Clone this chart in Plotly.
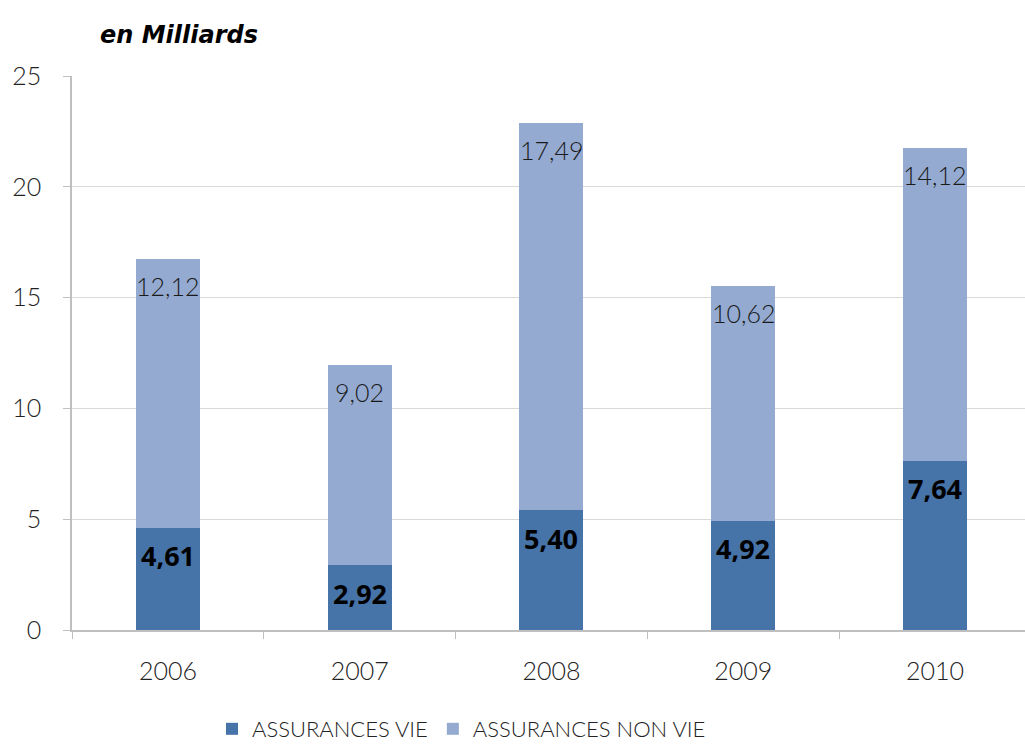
import plotly.graph_objects as go

years = ["2006", "2007", "2008", "2009", "2010"]
vie = [4.61, 2.92, 5.40, 4.92, 7.64]
non_vie = [12.12, 9.02, 17.49, 10.62, 14.12]
vie_name = "ASSURANCES VIE"
non_vie_name = "ASSURANCES NON VIE"
y_ticks = [0, 5, 10, 15, 20, 25]

def fr(v):
    return f"{v:.2f}".replace(".", ",")

FONT = "Lato"
C_VIE = "#4673A8"
C_NV = "#94AAD1"

fig = go.Figure()
fig.add_bar(x=years, y=vie, name=vie_name, marker=dict(color=C_VIE, line=dict(width=0)), width=0.335)
fig.add_bar(x=years, y=non_vie, name=non_vie_name, marker=dict(color=C_NV, line=dict(width=0)), width=0.335)

for i, yr in enumerate(years):
    fig.add_annotation(x=i, y=vie[i], text=f"<b>{fr(vie[i])}</b>", showarrow=False,
                       yanchor="middle", yshift=-28,
                       font=dict(family="Open Sans", size=27, color="black", weight=800))
    fig.add_annotation(x=i, y=vie[i] + non_vie[i], text=fr(non_vie[i]), showarrow=False,
                       yanchor="middle", yshift=-27,
                       font=dict(family=FONT, size=25, color="#1a1a1a", weight=300))

fig.add_annotation(xref="paper", yref="paper", x=(98 - 72) / 953, y=(630 - 35) / 554,
                   xanchor="left", yanchor="middle", showarrow=False,
                   text="<b><i>en Milliards</i></b>",
                   font=dict(family="DejaVu Sans", size=24, color="black"))

fig.update_layout(
    width=1025, height=746,
    margin=dict(l=72, r=0, t=76, b=116, autoexpand=False),
    barmode="stack",
    plot_bgcolor="white", paper_bgcolor="white",
    font=dict(family=FONT, size=25, color="#222", weight=300),
    showlegend=True,
    legend=dict(orientation="h", x=(212 - 72) / 953, xanchor="left", y=(630 - 729) / 554, yanchor="middle",
                font=dict(family=FONT, size=22, color="#222", weight=300), itemwidth=30, traceorder="normal"),
    xaxis=dict(type="category", range=[-0.5, 4.47], tickson="boundaries", ticks="outside", ticklen=7,
               tickcolor="#bfbfbf", showline=True, linecolor="#bfbfbf", linewidth=1.5,
               showgrid=False, tickfont=dict(family=FONT, size=25, color="#222", weight=300),
               ticklabelstandoff=18),
    yaxis=dict(range=[0, 25], tickvals=y_ticks, ticks="outside", ticklen=7, tickcolor="#bfbfbf",
               showline=True, linecolor="#bfbfbf", linewidth=1.5, gridcolor="#d9d9d9", gridwidth=1.2,
               tickfont=dict(family=FONT, size=25, color="#222", weight=300), ticklabelstandoff=17,
               zeroline=False),
)

fig.write_html("out.html", config={"displayModeBar": False},
               post_script="document.body.style.margin='0';")
